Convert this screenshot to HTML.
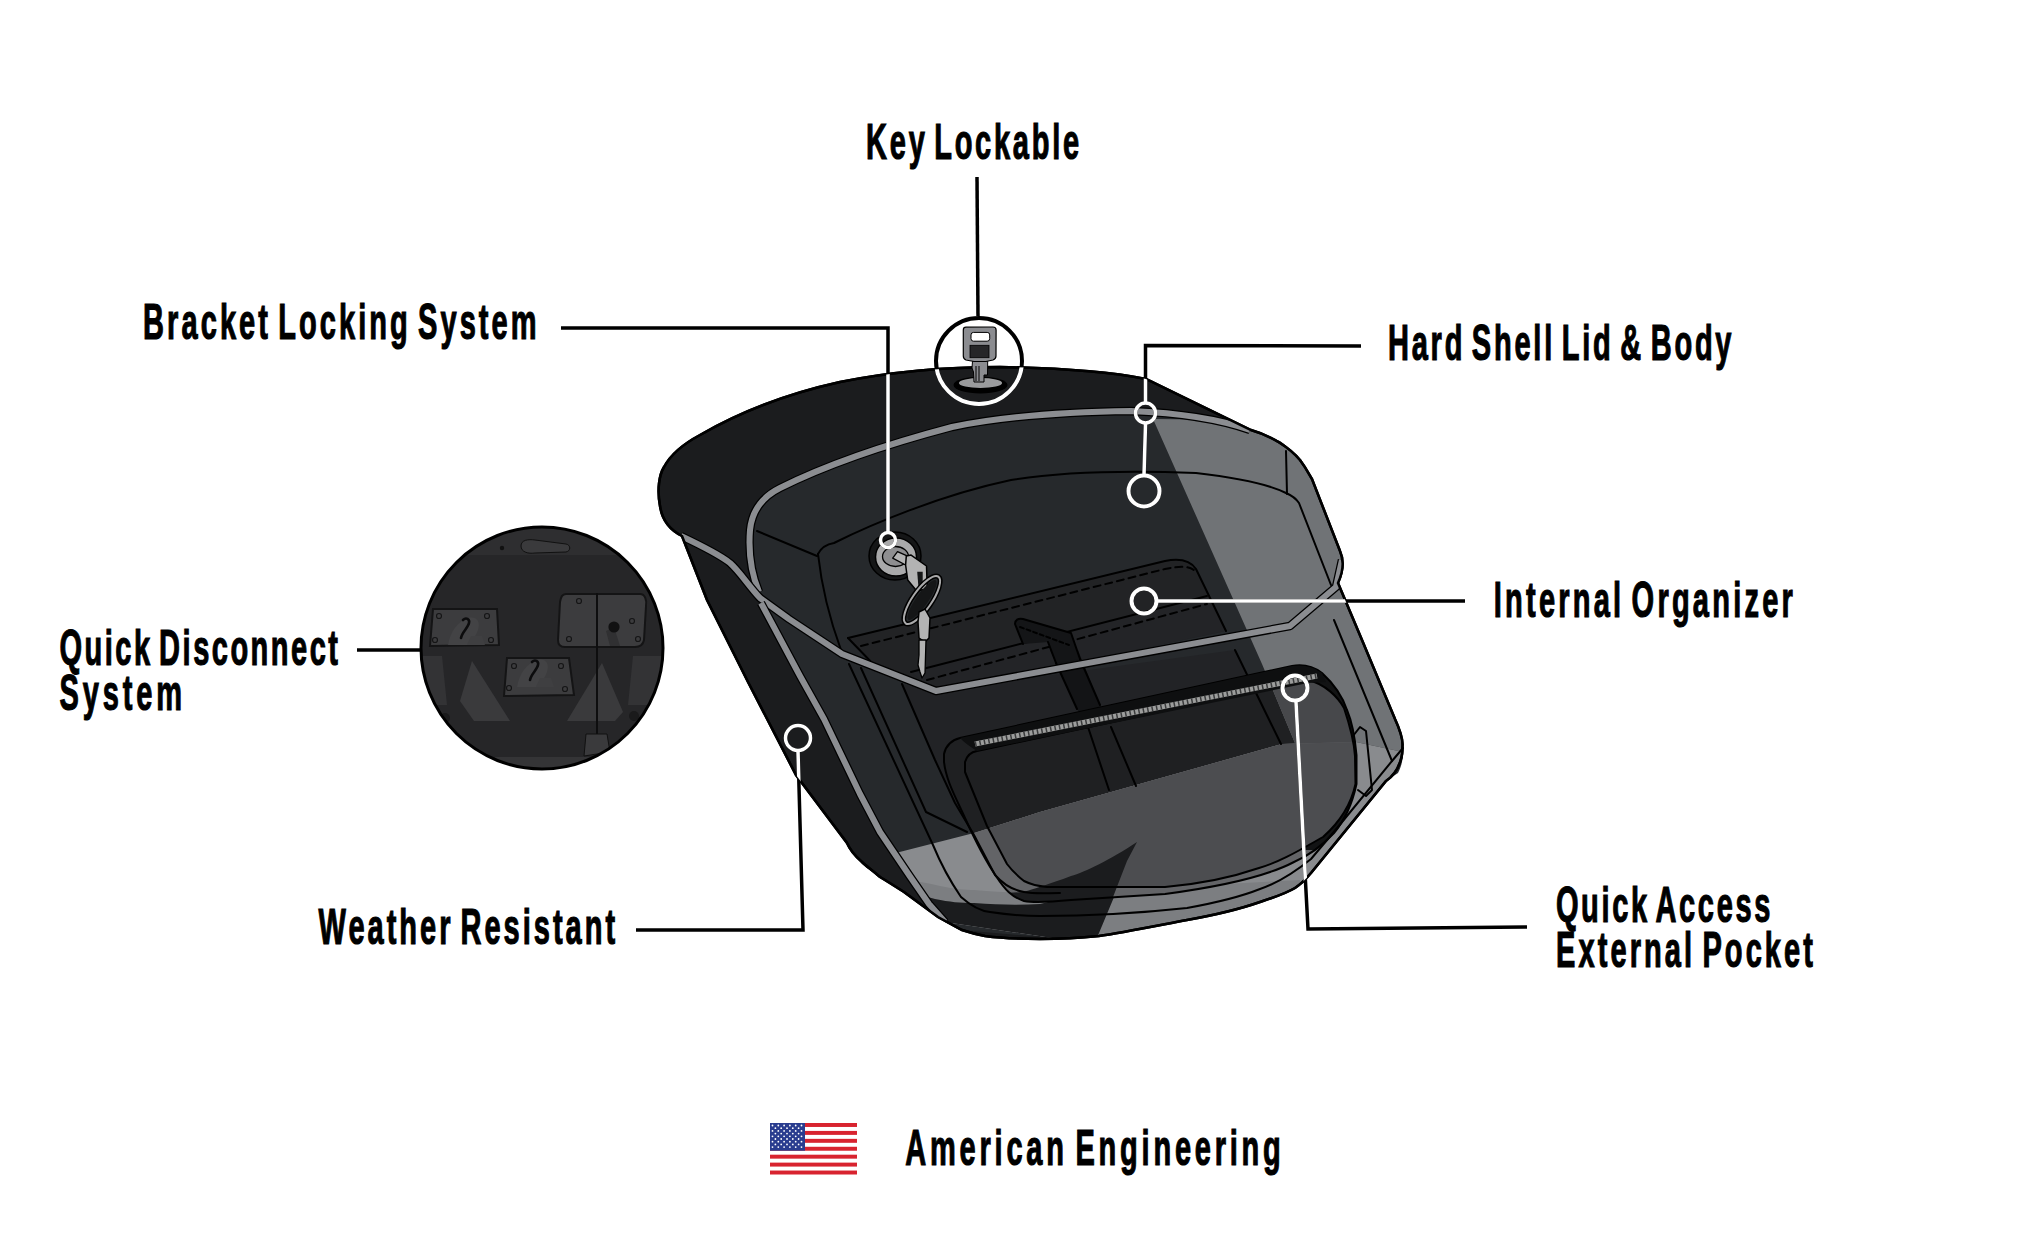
<!DOCTYPE html>
<html><head><meta charset="utf-8">
<style>
html,body{margin:0;padding:0;background:#fff;}
body{width:2044px;height:1248px;overflow:hidden;}
svg{display:block;}
.t{font-family:"Liberation Sans",sans-serif;font-weight:bold;font-size:50px;fill:#000;stroke:#000;stroke-width:1.2px;word-spacing:-7px;}
.ln{fill:none;stroke:#000;stroke-width:2;stroke-linejoin:round;stroke-linecap:round;}
.pip{fill:none;stroke:#000;stroke-width:8.5;stroke-linejoin:round;}
.pipc{fill:none;stroke:#8b8d91;stroke-width:6;stroke-linejoin:round;}
.cb{fill:none;stroke:#000;}
.cw{fill:none;stroke:#fff;}
</style></head><body>
<svg width="2044" height="1248" viewBox="0 0 2044 1248">
<defs>
<path id="silp" d="M1000,367 C1060,368 1110,372 1146,379 L1251,430 C1272,436 1290,448 1300,460 C1306,468 1309,474 1312,479 L1340,551 C1344,560 1343,572 1338,583 L1362,640 L1395,719 C1400,730 1403,740 1402.5,746 C1402.5,752 1402,756 1401,759 C1398,770 1392,777 1386,781 L1311,873 C1306,879 1301,884 1295,888 C1285,894 1272,898 1260,902 C1240,909 1215,915 1187,920 C1150,927 1120,933 1099,936 C1080,938 1060,939 1040,939 C1020,939 1000,938 985,936 C975,934 968,932 962,930 L938,917 L904,892 C893,885 885,880 880,877 C872,870 866,866 862,862 C855,856 850,850 847,843 L823,811 L796,775 L748,682 L707,600 L682,536 C670,530 662,520 660,506 C657,490 659,475 664,467 C672,452 685,443 700,435 C740,412 790,393 840,382 C890,372 950,367 1000,367 Z"/>
<clipPath id="bagclip"><use href="#silp"/></clipPath>
<path id="facep" d="M759,592 C752,575 748,555 750,530 C752,510 762,497 780,488 C820,468 880,446 952,427 C1000,417 1060,412 1131,411 C1180,413 1220,419 1252,431 L1280,441 C1290,448 1300,460 1312,479 L1340,551 C1344,560 1343,570 1341,565 L1336,587 L1290,626 L936,691 L842,654 L789,619 Z"/>
<path id="pockp" d="M944,762 L944,754 C946,745 952,740 960,738 L1292,666 C1303,664 1314,667 1322,673 C1333,683 1342,695 1347,710 C1352,722 1355,738 1356.5,755 L1356.5,784 C1352,805 1345,820 1334,833 C1322,846 1310,855 1294,862 C1275,872 1240,884 1165,894 L1071,900 C1050,902 1035,903 1024,901 C1012,897 1005,890 996,876 C985,860 975,840 965,818 C955,796 946,780 944,762 Z"/>
<clipPath id="pocketclip"><use href="#pockp"/></clipPath>
<path id="pockin" d="M965,772 L965,762 C967,755 971,752 977,751 L1308,680 C1325,684 1338,697 1344,708 C1349,723 1354,740 1355,756 L1355.5,784 C1351,805 1340,822 1323,837 C1300,850 1280,862 1259,868 C1230,878 1200,884 1165,887 L1047,887 C1035,886 1030,884 1024,881 C1015,874 1010,868 1007,864 L987,826 Z"/>
<clipPath id="pockinclip"><use href="#pockin"/></clipPath>
<clipPath id="frontclip"><path d="M761,603 L800,676 L824,719 L860,794 L880,832 L909,875 L929,904 L945,922 L1200,960 L1500,900 L1500,500 L761,500 Z"/></clipPath>
</defs>

<!-- ===== BAG FILLS ===== -->
<use href="#silp" fill="#1b1c1e"/>
<!-- body front face -->
<path d="M760,600 L789,619 L842,654 L936,691 L1290,626 L1341,565 L1338,583 L1362,640 L1400,734 C1405,745 1404,762 1398,773 L1386,781 L1311,873 C1300,886 1275,897 1260,902 C1220,915 1150,928 1030,936 L960,930 L945,922 L929,904 L909,875 L880,832 L860,794 L824,719 Z" fill="#26292c"/>
<use href="#facep" fill="#26292c"/>
<!-- organizer pocket (lid) -->
<path d="M848,638 L1165,561 C1180,558 1190,560 1196,569 L1226,631 L936,691 L876,667 Z" fill="#222325"/>
<path d="M911,672 L1207,596 L1226,631 L936,691 Z" fill="#232427"/>
<!-- body organizer box -->
<path d="M902,684 L936,691 L1235,650 L1281,744 L972,831 L955,803 Z" fill="#222326"/>
<!-- strap -->

<path d="M1050,650 L1078,650 L1100,705 L1111,727 L1136,786 L1109,790 L1088,727 L1077,709 Z" fill="#131416"/>
<!-- pocket -->
<use href="#pockp" fill="#1f2022"/>

<!-- light zones -->
<g clip-path="url(#bagclip)">
<path d="M1153,419 L1262,664 L1297,748 L1356,742 L1403,752 L1430,400 L1250,420 Z" fill="#707376"/>
<g clip-path="url(#frontclip)">
<path d="M880,857 L974,833 L1040,812 L1282,744 L1356,742 L1403,752 L1420,960 L860,960 Z" fill="#898b8e"/>
<path d="M880,878 C900,880 916,880 940,886 C955,889 965,890 974,890 C1000,892 1020,893 1040,894 L1300,880 L1300,960 L860,960 Z" fill="#7c7e81"/>
<path d="M900,893 C915,895 923,895 935,899 C950,902 960,903 974,903 C1000,905 1020,905 1040,904 C1060,900 1074,890 1090,880 L1137,842 L1094,945 L880,945 Z" fill="#1b1c1e"/>
</g>
</g>
<g clip-path="url(#pocketclip)">
<path d="M1153,419 L1262,664 L1297,748 L1356,742 L1403,752 L1430,400 Z" fill="#47484b"/>
<path d="M880,857 L974,833 L1040,812 L1282,744 L1356,742 L1403,752 L1420,960 L860,960 Z" fill="#636467"/>
<g clip-path="url(#pockinclip)">
<path d="M880,857 L974,833 L1040,812 L1282,744 L1356,742 L1403,752 L1420,960 L860,960 Z" fill="#4c4d50"/>
</g>
<clipPath id="ringclip"><rect x="1296" y="660" width="110" height="190"/></clipPath>
<path clip-path="url(#ringclip)" fill-rule="evenodd" d="M944,762 L944,754 C946,745 952,740 960,738 L1292,666 C1303,664 1314,667 1322,673 C1333,683 1342,695 1347,710 C1352,722 1355,738 1356.5,755 L1356.5,784 C1352,805 1345,820 1334,833 C1322,846 1310,855 1294,862 C1275,872 1240,884 1165,894 L1071,900 C1050,902 1035,903 1024,901 C1012,897 1005,890 996,876 C985,860 975,840 965,818 C955,796 946,780 944,762 Z M965,772 L965,762 C967,755 971,752 977,751 L1308,680 C1325,684 1338,697 1344,708 C1349,723 1354,740 1355,756 L1355.5,784 C1351,805 1340,822 1323,837 C1300,850 1280,862 1259,868 C1230,878 1200,884 1165,887 L1047,887 C1035,886 1030,884 1024,881 C1015,874 1010,868 1007,864 L987,826 Z" fill="#121314"/>
<path d="M1137,842 C1110,860 1085,872 1071,876 C1050,884 1030,890 1024,892 L930,897 L930,960 L1094,960 L1108,910 L1127,861 Z" fill="#1b1c1e"/>
</g>

<!-- ===== LINE ART ===== -->
<use href="#silp" fill="none" stroke="#000" stroke-width="2.5"/>
<!-- lid face left edge + tray -->
<path class="ln" d="M757,531 L817,556"/>
<path class="ln" d="M818,554 C822,546 828,544 834,543 C870,525 940,495 1011,480 C1060,472 1117,470 1196,473 C1240,478 1270,485 1286,493 C1293,496 1297,500 1299,503 L1331,585"/>
<path class="ln" d="M818,554 C822,590 830,620 841,650"/>
<path class="ln" d="M1286,451 L1287,494"/>
<!-- organizer (lid) -->
<path class="ln" d="M848,638 L1165,561 C1180,558 1190,560 1196,569 L1226,631"/>
<path class="ln" d="M848,638 L876,667 M1207,596 L911,672" />
<path class="ln" stroke-dasharray="7,5" stroke-width="1.6" d="M861,646 L1165,569 C1180,566 1188,566 1194,570"/>
<path class="ln" stroke-dasharray="7,5" stroke-width="1.6" d="M927,680 L1207,604"/>
<path d="M1015,624 C1015,620 1018,618 1023,619 L1071,633 L1080,659 L1056,663 L1048,642 L1023,644 Z" fill="#141517"/>
<path class="ln" stroke-width="1.6" d="M1023,644 L1015,624 C1015,620 1018,618 1023,619 L1071,633 L1080,659 M1048,642 L1056,663"/>
<path class="ln" stroke-width="1.3" stroke-dasharray="4,3" d="M1020,627 L1069,645"/>
<path class="ln" stroke-width="1.3" d="M1056,663 L1077,709 M1080,659 L1100,705 M1088,727 L1109,790 M1111,727 L1136,786"/>
<!-- body organizer box lines -->
<path class="ln" d="M849,664 L933,845 C940,862 948,878 961,897 C970,905 980,911 990,912 C1010,915 1030,916 1040,916 C1100,916 1150,912 1187,908 C1220,902 1245,895 1260,889 C1275,884 1295,872 1311,859 L1338,827"/>
<path class="ln" d="M861,668 L926,812 L967,832"/>
<path class="ln" d="M902,684 L935,760 L955,803 L974,835 L995,875 C1003,884 1012,890 1024,892 C1035,894 1045,893 1060,893"/>
<path class="ln" d="M1235,650 L1281,744"/>
<!-- pocket outlines -->
<use href="#pockp" class="ln" stroke-width="2.2"/>

<use href="#pockin" class="ln" stroke-width="2"/>
<!-- zipper band -->
<path d="M960,738 L1292,666 C1303,664 1314,667 1322,673 L1326,682 L1308,683 L977,751 C970,747 964,742 960,738 Z" fill="#0e0f10"/>
<path d="M975,744 L1317,676" stroke="#9c9d9c" stroke-width="5" fill="none"/>
<path d="M975,744 L1317,676" stroke="#3a3b3c" stroke-width="5" stroke-dasharray="1.5,3" fill="none"/>
<!-- body inner lines right -->
<path class="ln" d="M1334,620 L1392,761 L1338,827"/>
<path class="ln" stroke-width="1.5" d="M1403,748 L1392,761"/>
<!-- side latch -->
<path class="ln" stroke-width="1.5" d="M1353,736 L1360,727 L1366,731 L1372,790 L1366,796 L1358,790"/>

<g clip-path="url(#bagclip)">
<!-- upper rim piping -->
<path class="pip" d="M759,592 C752,575 748,555 750,530 C752,510 762,497 780,488 C820,468 880,446 952,427 C1000,417 1060,412 1131,411 C1180,413 1222,420 1250,430"/>
<path class="pipc" d="M759,592 C752,575 748,555 750,530 C752,510 762,497 780,488 C820,468 880,446 952,427 C1000,417 1060,412 1131,411 C1180,413 1222,420 1250,430"/>
<!-- lid V bottom piping -->
<path class="pip" d="M681,536 C700,545 720,555 730,563 C740,572 748,585 760,598 L789,619 L842,654 L936,691 L1290,626 L1336,587 L1342,560"/>
<path class="pipc" d="M681,536 C700,545 720,555 730,563 C740,572 748,585 760,598 L789,619 L842,654 L936,691 L1290,626 L1336,587 L1342,560"/>
<!-- body left piping -->
<path class="pip" d="M761,603 L800,676 L824,719 L860,794 L880,832 L909,875 L929,904 L945,922"/>
<path class="pipc" d="M761,603 L800,676 L824,719 L860,794 L880,832 L909,875 L929,904 L945,922"/>
</g>
<use href="#silp" fill="none" stroke="#000" stroke-width="2.5"/>

<!-- ===== LOCK & KEYS ===== -->
<ellipse cx="895" cy="556" rx="26" ry="24" fill="#151617" stroke="#000" stroke-width="1.5"/>
<ellipse cx="896" cy="557" rx="20.5" ry="19" fill="#a9a9aa" stroke="#000" stroke-width="1.5"/>
<ellipse cx="895.5" cy="556.5" rx="13" ry="10" fill="#8e8e90" stroke="#000" stroke-width="1.3"/>
<path d="M892.7,558.1 L897.5,551.6 L907.7,556.1 L905.6,565 Z" fill="#b3b3b3" stroke="#000" stroke-width="1.3" stroke-linejoin="round"/>
<path d="M906.3,556.1 L911.1,555.1 L926.5,566 L927.2,586.8 L924,589.5 L916.5,590.8 L907.7,580 L905.6,565 Z" fill="#b3b3b3" stroke="#000" stroke-width="1.5" stroke-linejoin="round"/>
<path d="M917.2,571.8 L922.7,571.8 L922.7,588.1 L918.6,589.5 Z" fill="#151617"/>
<ellipse cx="922" cy="600" rx="9.5" ry="28.5" transform="rotate(35 922 600)" fill="none" stroke="#000" stroke-width="5"/>
<ellipse cx="922" cy="600" rx="9.5" ry="28.5" transform="rotate(35 922 600)" fill="none" stroke="#a9a9aa" stroke-width="2"/>
<ellipse cx="922" cy="600" rx="6" ry="24" transform="rotate(35 922 600)" fill="#151617"/>
<path d="M919,612 L925,609 L930,618 L929,638 L925,642 L919,638 L918,622 Z" fill="#b3b3b3" stroke="#000" stroke-width="1.5" stroke-linejoin="round"/>
<path d="M919,640 L926,640 L925,673 L922,678 L920,672 L918,665 L919,655 Z" fill="#b3b3b3" stroke="#000" stroke-width="1.3" stroke-linejoin="round"/>

<!-- ===== KEY LOCKABLE ICON ===== -->
<ellipse cx="980.5" cy="385" rx="27" ry="8.5" fill="#000"/>
<ellipse cx="980.5" cy="383" rx="21.6" ry="5" fill="#9a9b9d"/>
<path d="M972.5,361 L987.7,361 L987.5,375 L984,375 L984,382 L974,382 L973.5,372 L972,368 Z" fill="#8b8c90" stroke="#000" stroke-width="1"/>
<path d="M976,366 L976,381 M979,366 L979,381" stroke="#000" stroke-width="1"/>
<path d="M963.3,330 Q963.3,327.2 966,327.2 L993,327 Q996.1,327 996.1,330 L996,356 Q996,359 993,360 L986,361.5 L974,361.5 L966,360 Q963.3,359 963.3,356 Z" fill="#8b8c90" stroke="#000" stroke-width="1.2"/>
<rect x="971" y="332.4" width="18.7" height="8.8" rx="2.5" fill="#fff" stroke="#000" stroke-width="1"/>
<rect x="970" y="345.3" width="19" height="12.4" fill="#262628" stroke="#000" stroke-width="0.8"/>

<!-- ===== CALLOUTS ===== -->
<g id="callouts">
<!-- key lockable -->
<path class="cb" stroke-width="3.5" d="M977,177 L978,316"/>
<circle class="cb" cx="979" cy="361" r="43" stroke-width="4"/>
<!-- bracket -->
<path class="cb" stroke-width="3.5" d="M561,328 L888,328 L888,532"/>
<circle class="cb" cx="888" cy="540" r="7.5" stroke-width="3.5"/>
<!-- hard shell -->
<path class="cb" stroke-width="3.5" d="M1361,346 L1145.5,345.5 L1145.5,402 M1145.5,424 L1144,475"/>
<circle class="cb" cx="1145.5" cy="413" r="10" stroke-width="3.5"/>
<circle class="cb" cx="1144" cy="491" r="15.5" stroke-width="4"/>
<!-- organizer -->
<path class="cb" stroke-width="3.5" d="M1157,601 L1465,601"/>
<circle class="cb" cx="1144" cy="601" r="12.5" stroke-width="4"/>
<!-- weather -->
<path class="cb" stroke-width="3.5" d="M636,930 L803,930 L798,751"/>
<circle class="cb" cx="798" cy="738" r="12.5" stroke-width="3.5"/>
<!-- quick access -->
<path class="cb" stroke-width="3.5" d="M1527,927 L1308,929 L1296,702"/>
<circle class="cb" cx="1295" cy="688" r="12.5" stroke-width="4"/>
<!-- quick disconnect -->
<path class="cb" stroke-width="3.5" d="M357,650 L420,650"/>
</g>
<g clip-path="url(#bagclip)">
<path class="cw" stroke-width="3.5" d="M977,177 L978,316"/>
<circle class="cw" cx="979" cy="361" r="43" stroke-width="4"/>
<path class="cw" stroke-width="3.5" d="M561,328 L888,328 L888,532"/>
<circle class="cw" cx="888" cy="540" r="7.5" stroke-width="3.5"/>
<path class="cw" stroke-width="3.5" d="M1361,346 L1145.5,345.5 L1145.5,402 M1145.5,424 L1144,475"/>
<circle class="cw" cx="1145.5" cy="413" r="10" stroke-width="3.5"/>
<circle class="cw" cx="1144" cy="491" r="15.5" stroke-width="4"/>
<path class="cw" stroke-width="3.5" d="M1157,601 L1465,601"/>
<circle class="cw" cx="1144" cy="601" r="12.5" stroke-width="4"/>
<path class="cw" stroke-width="3.5" d="M636,930 L803,930 L798,751"/>
<circle class="cw" cx="798" cy="738" r="12.5" stroke-width="3.5"/>
<path class="cw" stroke-width="3.5" d="M1527,927 L1308,929 L1296,702"/>
<circle class="cw" cx="1295" cy="688" r="12.5" stroke-width="4"/>
</g>

<!-- quick disconnect circle -->
<clipPath id="qdclip"><circle cx="542" cy="648" r="121"/></clipPath>
<circle cx="542" cy="648" r="121" fill="#2e2e30"/>
<g clip-path="url(#qdclip)">
<rect x="400" y="555" width="290" height="205" fill="#262628"/>
<path d="M521,546 C521,540 528,539 535,540 L566,544 C571,545 571,551 566,552 L535,553 C528,554 521,552 521,546 Z" fill="#3a3a3c" stroke="#111" stroke-width="1"/>
<circle cx="502" cy="548" r="2.2" fill="#111"/>
<path d="M421,656 L442,656 L447,705 L421,705 Z" fill="#333335"/>
<path d="M633,656 L665,656 L665,705 L628,705 Z" fill="#333335"/>
<path d="M472,661 L460,701 L474,721 L510,721 Z" fill="#3a3a3c"/>
<path d="M602,663 L567,721 L615,721 L623,712 Z" fill="#3a3a3c"/>
<path d="M433,609 L497,609 L499,645 L430,646 Z" fill="#3c3c3e" stroke="#141415" stroke-width="2"/>
<path d="M566,594 L640,594 C645,594 647,600 646,606 L644,640 C643,645 640,647 635,647 L565,647 C560,647 558,644 558,640 L560,602 C561,597 562,594 566,594 Z" fill="#3c3c3e" stroke="#141415" stroke-width="2"/>
<path d="M507,658 L569,658 L574,695 L504,696 Z" fill="#3c3c3e" stroke="#141415" stroke-width="2"/>
<g transform="translate(0,0)"><path d="M448,645 C450,632 458,621 468,618 C476,616 481,621 478,630 C476,636 472,640 470,645 Z" fill="#434345"/><path d="M461,638 C462,632 468,628 469,623 C470,619 466,617 463,620" fill="none" stroke="#0c0c0d" stroke-width="2.6" stroke-linecap="round"/><path d="M467,645 L471,636 L482,636 L485,645 Z" fill="#3f3f41"/></g>
<g transform="translate(69,42)"><path d="M448,645 C450,632 458,621 468,618 C476,616 481,621 478,630 C476,636 472,640 470,645 Z" fill="#434345"/><path d="M461,638 C462,632 468,628 469,623 C470,619 466,617 463,620" fill="none" stroke="#0c0c0d" stroke-width="2.6" stroke-linecap="round"/><path d="M467,645 L471,636 L482,636 L485,645 Z" fill="#3f3f41"/></g>
<path d="M606,631 L614,627 L620,646 L610,646 Z" fill="#303032"/><circle cx="614" cy="627" r="5.6" fill="#111112"/>
<g fill="none" stroke="#151516" stroke-width="1.2">
<circle cx="439" cy="616" r="2.5"/><circle cx="487" cy="616" r="2.5"/><circle cx="435" cy="640" r="2.5"/><circle cx="491" cy="640" r="2.5"/>
<circle cx="579" cy="601" r="2.5"/><circle cx="632" cy="621" r="2.5"/><circle cx="569" cy="639" r="2.5"/><circle cx="638" cy="639" r="2.5"/>
<circle cx="514" cy="666" r="2.5"/><circle cx="561" cy="666" r="2.5"/><circle cx="509" cy="688" r="2.5"/><circle cx="565" cy="689" r="2.5"/>
</g>
<path d="M597,593 L597,735" stroke="#0e0e0f" stroke-width="2"/>
<path d="M586,734 L607,734 L610,752 L584,756 Z" fill="#3a3a3c" stroke="#111" stroke-width="1"/>
<rect x="495" y="757" width="95" height="14" fill="#343436"/>
<circle cx="445" cy="718" r="5" fill="#1a1a1b"/><circle cx="634" cy="716" r="5" fill="#1a1a1b"/>
</g>
<circle cx="542" cy="648" r="121" fill="none" stroke="#000" stroke-width="3"/>

<!-- flag -->
<g>
<rect x="770" y="1123" width="87" height="51.5" fill="#fff"/>
<rect x="770" y="1123.00" width="87" height="3.96" fill="#d8232f"/>
<rect x="770" y="1130.92" width="87" height="3.96" fill="#d8232f"/>
<rect x="770" y="1138.85" width="87" height="3.96" fill="#d8232f"/>
<rect x="770" y="1146.77" width="87" height="3.96" fill="#d8232f"/>
<rect x="770" y="1154.69" width="87" height="3.96" fill="#d8232f"/>
<rect x="770" y="1162.62" width="87" height="3.96" fill="#d8232f"/>
<rect x="770" y="1170.54" width="87" height="3.96" fill="#d8232f"/>
<rect x="770" y="1123" width="35" height="27.7" fill="#2a3d8f"/>
<g fill="#fff"><circle cx="772.5" cy="1125.5" r="0.9"/><circle cx="778.3" cy="1125.5" r="0.9"/><circle cx="784.1" cy="1125.5" r="0.9"/><circle cx="789.9" cy="1125.5" r="0.9"/><circle cx="795.7" cy="1125.5" r="0.9"/><circle cx="801.5" cy="1125.5" r="0.9"/><circle cx="775.4" cy="1128.2" r="0.9"/><circle cx="781.2" cy="1128.2" r="0.9"/><circle cx="787.0" cy="1128.2" r="0.9"/><circle cx="792.8" cy="1128.2" r="0.9"/><circle cx="798.6" cy="1128.2" r="0.9"/><circle cx="772.5" cy="1130.9" r="0.9"/><circle cx="778.3" cy="1130.9" r="0.9"/><circle cx="784.1" cy="1130.9" r="0.9"/><circle cx="789.9" cy="1130.9" r="0.9"/><circle cx="795.7" cy="1130.9" r="0.9"/><circle cx="801.5" cy="1130.9" r="0.9"/><circle cx="775.4" cy="1133.6" r="0.9"/><circle cx="781.2" cy="1133.6" r="0.9"/><circle cx="787.0" cy="1133.6" r="0.9"/><circle cx="792.8" cy="1133.6" r="0.9"/><circle cx="798.6" cy="1133.6" r="0.9"/><circle cx="772.5" cy="1136.3" r="0.9"/><circle cx="778.3" cy="1136.3" r="0.9"/><circle cx="784.1" cy="1136.3" r="0.9"/><circle cx="789.9" cy="1136.3" r="0.9"/><circle cx="795.7" cy="1136.3" r="0.9"/><circle cx="801.5" cy="1136.3" r="0.9"/><circle cx="775.4" cy="1139.0" r="0.9"/><circle cx="781.2" cy="1139.0" r="0.9"/><circle cx="787.0" cy="1139.0" r="0.9"/><circle cx="792.8" cy="1139.0" r="0.9"/><circle cx="798.6" cy="1139.0" r="0.9"/><circle cx="772.5" cy="1141.7" r="0.9"/><circle cx="778.3" cy="1141.7" r="0.9"/><circle cx="784.1" cy="1141.7" r="0.9"/><circle cx="789.9" cy="1141.7" r="0.9"/><circle cx="795.7" cy="1141.7" r="0.9"/><circle cx="801.5" cy="1141.7" r="0.9"/><circle cx="775.4" cy="1144.4" r="0.9"/><circle cx="781.2" cy="1144.4" r="0.9"/><circle cx="787.0" cy="1144.4" r="0.9"/><circle cx="792.8" cy="1144.4" r="0.9"/><circle cx="798.6" cy="1144.4" r="0.9"/><circle cx="772.5" cy="1147.1" r="0.9"/><circle cx="778.3" cy="1147.1" r="0.9"/><circle cx="784.1" cy="1147.1" r="0.9"/><circle cx="789.9" cy="1147.1" r="0.9"/><circle cx="795.7" cy="1147.1" r="0.9"/><circle cx="801.5" cy="1147.1" r="0.9"/></g>
</g>
<!-- labels -->
<text class="t" transform="translate(866.10,159.00) scale(0.58,1)" textLength="367.24" lengthAdjust="spacing">Key Lockable</text>
<text class="t" transform="translate(143.10,338.80) scale(0.58,1)" textLength="678.45" lengthAdjust="spacing">Bracket Locking System</text>
<text class="t" transform="translate(1388.00,359.80) scale(0.58,1)" textLength="592.24" lengthAdjust="spacing">Hard Shell Lid &amp; Body</text>
<text class="t" transform="translate(1493.80,616.90) scale(0.58,1)" textLength="515.52" lengthAdjust="spacing">Internal Organizer</text>
<text class="t" transform="translate(59.50,665.00) scale(0.58,1)" textLength="480.17" lengthAdjust="spacing">Quick Disconnect</text>
<text class="t" transform="translate(59.50,709.80) scale(0.58,1)" textLength="211.21" lengthAdjust="spacing">System</text>
<text class="t" transform="translate(318.60,944.00) scale(0.58,1)" textLength="511.21" lengthAdjust="spacing">Weather Resistant</text>
<text class="t" transform="translate(1555.90,921.70) scale(0.58,1)" textLength="369.83" lengthAdjust="spacing">Quick Access</text>
<text class="t" transform="translate(1556.00,966.90) scale(0.58,1)" textLength="443.10" lengthAdjust="spacing">External Pocket</text>
<text class="t" transform="translate(905.30,1164.50) scale(0.58,1)" textLength="647.41" lengthAdjust="spacing">American Engineering</text>
</svg>
</body></html>
